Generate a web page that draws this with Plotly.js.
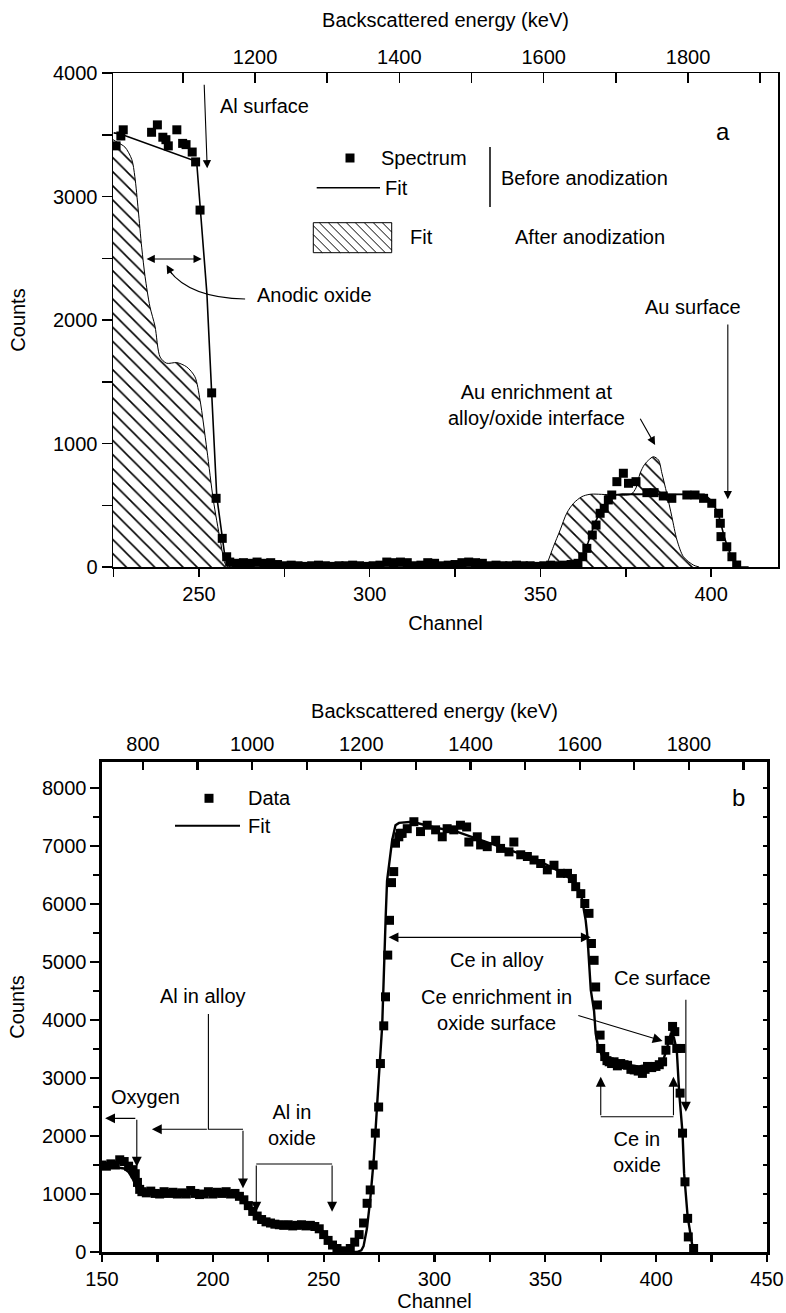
<!DOCTYPE html>
<html><head><meta charset="utf-8">
<script src="https://cdn.plot.ly/plotly-3.0.1.min.js"></script>
<style>html,body{margin:0;padding:0;background:#fff;}</style>
</head><body>
<div id="chart" style="width:786px;height:1313px;"></div>
<script>
// ---------- Panel a data ----------
const aSpecAlCh = [225.7,227.1,227.8,236.1,237.8,239.4,240.3,241.0,243.5,245.2,246.2,248.0,249.0,250.3,253.7,255.0,256.8,258.1];
const aSpecAlCounts = [3410,3490,3540,3520,3580,3480,3460,3410,3540,3430,3420,3360,3280,2890,1410,556,232,83];
const aSpecBaseCh = [259,261,263,265,267,269,271,273,275,277,279,281,283,285,287,289,291,293,295,297,299,301,303,305,307,309,311,313,315,317,319,321,323,325,327,329,331,333,335,337,339,341,343,345,347,349,351,353,355,357,359,361];
const aSpecBaseCounts = [40,30,35,30,40,30,35,20,10,15,10,5,10,15,10,5,10,10,15,10,5,10,15,40,35,40,35,10,15,35,30,10,15,20,35,40,35,30,10,15,10,10,15,10,10,5,10,15,10,15,20,30];
const aSpecAuCh = [362.4,363.6,365.2,366.3,367.5,368.7,369.9,370.9,372.4,374.3,375.8,378.0,381.2,383.3,386.0,388.5,392.9,395.3,397.8,400.2,402.2,402.7,402.9,404.6,406.1,407.5];
const aSpecAuCounts = [83,151,259,340,435,475,543,583,691,759,678,691,602,602,575,556,583,583,556,516,435,354,246,164,83,16];

const aFitCh = [225,227,249.3,252.3,253.7,255.2,257.6,259,360,362,364,366,368,370,372,374,398,400,402,403,404,405,406,407,408,411];
const aFitCounts = [3515,3506,3283,2216,1411,569,83,0,0,60,200,360,470,545,585,590,588,540,440,330,230,150,80,30,0,0];

const aAfterCh = [224.8,226,228.3,230.3,231.2,232.2,233.2,234.2,235.6,237.1,238.6,240.5,243.5,246.4,248.8,250.3,252.3,254.2,256.2,257.6,258.5,351.5,352,353.8,355.8,357.7,359.7,362.1,364.6,376.5,378,379.2,380.5,381.7,383.1,384.6,385.6,387,388.5,390,391.9,394.8,396.5];
const aAfterCounts = [3460,3440,3400,3300,3160,2890,2590,2350,2110,1950,1700,1650,1655,1620,1540,1350,950,540,220,30,0,0,30,164,300,435,516,569,589,589,640,759,830,866,893,866,759,597,408,219,83,16,0];

// ---------- Panel b data ----------
const bDataCh = [150,152,154,156,158,160,162,164,165,166,167,168,170,172,174,176,178,180,182,184,186,188,190,192,194,196,198,200,202,204,206,208,210,212,214,216,218,220,222,224,226,228,230,232,234,236,238,240,242,244,246,248,250,252,254,256,258,259,260,262,264,266,268,269.6,271,272.3,273.3,274.8,275.6,277.1,277.9,278.9,279.7,280.6,281.6,282.4,283.9,284.6,285.4,287.7,290.7,293.7,296.7,300.5,303.5,305.7,308.7,311.7,314.5,315.5,319.3,320.8,323.8,327.6,329.8,333.6,335.8,338.9,341.9,344.9,347.9,350.9,353.9,356.9,360,362.2,363.7,366,367.8,369.7,370.8,372,372.7,373.5,374.7,375,376.8,377.8,378.8,379.9,381,382.5,384,385.5,387.1,388.6,390.1,391.9,393.8,395,396.1,398,399.9,401.4,402.9,404.4,405.9,407.4,408.4,409.3,410.8,411.1,411.9,413,414.2,414.5,416.9];
const bDataCounts = [1500,1480,1520,1500,1590,1560,1480,1420,1350,1200,1080,1040,1020,1050,1010,1000,1040,1010,1030,1000,1020,1000,1060,1010,990,1000,1040,1000,1030,1010,1040,1000,1010,960,900,800,700,620,560,520,500,480,470,460,470,450,460,470,450,460,440,400,300,200,120,60,20,5,10,60,170,300,500,840,1070,1500,2050,2500,3250,3900,4400,5120,5720,6370,6560,7050,7160,7220,7220,7300,7420,7250,7360,7280,7160,7300,7280,7360,7330,7070,7160,7020,6990,7100,6960,6900,7070,6850,6820,6760,6700,6590,6670,6530,6530,6440,6300,6180,6010,5840,5320,5030,4570,4260,3740,3510,3370,3300,3280,3250,3280,3210,3250,3230,3220,3150,3140,3120,3080,3150,3200,3180,3200,3230,3280,3480,3650,3890,3800,3510,2740,3510,2050,1210,580,260,60];

const bFitCh = [150,156,160,162,164,166,168,175,190,205,210,213,216,219,222,226,235,245,249,252,255,257,259,265,267,268,269.5,271,272.6,273.6,274.8,276.4,277.1,278,278.6,280.9,282.4,284,290,300,310,320,330,340,350,358,363,366,368.2,369,370.5,372,372.7,373.8,375.8,379.5,385,392,398,402.9,404.4,406.5,408,409.3,410.4,411.9,412.6,414.2,416.4,418];
const bFitCounts = [1450,1460,1440,1380,1250,1080,1010,1000,1000,990,970,900,760,620,520,470,460,440,380,250,100,20,0,0,30,100,400,900,1600,2300,2960,3900,4900,5800,6400,7100,7360,7400,7420,7320,7250,7120,6990,6850,6690,6530,6380,6200,5720,5440,4520,4150,3770,3540,3370,3250,3240,3200,3230,3280,3450,3750,3700,3480,2740,2050,1360,610,90,0];

// energy axis ranges
const aEnergyRange = [1003.2, 1924.7];
const bEnergyRange = [725, 1943];

// ---------- helpers for layout decorations ----------
const W = 786, H = 1313;
const PX = x => x / W;
const PY = y => 1 - y / H;
const FONT = 'Liberation Sans, Arial, Helvetica, sans-serif';

function hatchPath(x0, y0, x1, y1, step) {
  let d = '';
  for (let c = x0 - (y1 - y0); c < x1; c += step) {
    const sx = Math.max(x0, c), ex = Math.min(x1, c + (y1 - y0));
    if (ex <= sx) continue;
    const sy = y0 + (sx - c), ey = y0 + (ex - c);
    d += 'M' + PX(sx).toFixed(5) + ',' + PY(sy).toFixed(5) + 'L' + PX(ex).toFixed(5) + ',' + PY(ey).toFixed(5);
  }
  return d;
}

const traces = [
  {x: aAfterCh, y: aAfterCounts, xaxis: 'x', yaxis: 'y', type: 'scatter', mode: 'lines',
   line: {color: 'black', width: 1, shape: 'spline', smoothing: 0.8}, fill: 'tozeroy', fillcolor: 'white',
   fillpattern: {shape: '\\', fgcolor: 'black', bgcolor: 'white', size: 10, solidity: 0.16}},
  {x: aFitCh, y: aFitCounts, xaxis: 'x', yaxis: 'y', type: 'scatter', mode: 'lines',
   line: {color: 'black', width: 1.6}},
  {x: aSpecAlCh.concat(aSpecBaseCh, aSpecAuCh), y: aSpecAlCounts.concat(aSpecBaseCounts, aSpecAuCounts),
   xaxis: 'x', yaxis: 'y', type: 'scatter', mode: 'markers',
   marker: {symbol: 'square', size: 9, color: 'black'}},
  {x: [], y: [], xaxis: 'x2', yaxis: 'y', type: 'scatter', mode: 'markers'},
  {x: bFitCh, y: bFitCounts, xaxis: 'x3', yaxis: 'y3', type: 'scatter', mode: 'lines',
   line: {color: 'black', width: 2.4}},
  {x: bDataCh, y: bDataCounts, xaxis: 'x3', yaxis: 'y3', type: 'scatter', mode: 'markers',
   marker: {symbol: 'square', size: 9, color: 'black'}},
  {x: [], y: [], xaxis: 'x4', yaxis: 'y3', type: 'scatter', mode: 'markers'},
  {x: [], y: [], xaxis: 'x3', yaxis: 'y4', type: 'scatter', mode: 'markers'}
];

const axBase = {showgrid: false, zeroline: false, showline: true, linecolor: 'black',
  tickcolor: 'black', tickfont: {family: FONT, size: 20, color: 'black'}, automargin: false};

const layout = {
  width: W, height: H, margin: {l: 0, r: 0, t: 0, b: 0},
  paper_bgcolor: 'white', plot_bgcolor: 'white', showlegend: false,
  font: {family: FONT, size: 20, color: 'black'},
  xaxis: Object.assign({}, axBase, {domain: [PX(113), PX(778)], anchor: 'y', range: [224.8, 419.6],
    tick0: 0, dtick: 50, ticks: 'outside', ticklen: 8, tickwidth: 1.5, linewidth: 1.5,
    minor: {dtick: 25, tick0: 0, ticks: 'outside', ticklen: 8, tickwidth: 1.5, tickcolor: 'black'},
    title: {text: 'Channel', standoff: 12, font: {family: FONT, size: 20}}}),
  yaxis: Object.assign({}, axBase, {domain: [PY(567), PY(73)], anchor: 'x', range: [0, 4000],
    dtick: 1000, ticks: 'outside', ticklen: 10, tickwidth: 1.5, linewidth: 1.5, mirror: true,
    minor: {dtick: 500, ticks: 'outside', ticklen: 10, tickwidth: 1.5, tickcolor: 'black'},
    title: {text: 'Counts', standoff: 22, font: {family: FONT, size: 20}}}),
  xaxis2: Object.assign({}, axBase, {overlaying: 'x', side: 'top', anchor: 'y', range: aEnergyRange,
    tick0: 0, dtick: 200, ticks: 'inside', ticklen: 10, tickwidth: 1.5, linewidth: 1.5,
    minor: {dtick: 100, tick0: 0, ticks: 'inside', ticklen: 10, tickwidth: 1.5, tickcolor: 'black'},
    title: {text: 'Backscattered energy (keV)', standoff: 12, font: {family: FONT, size: 20}}}),
  xaxis3: Object.assign({}, axBase, {domain: [PX(102), PX(767)], anchor: 'y3', range: [150, 450],
    tick0: 0, dtick: 50, ticks: 'outside', ticklen: 7, tickwidth: 2.2, linewidth: 2.6,
    minor: {dtick: 25, tick0: 0, ticks: 'outside', ticklen: 7, tickwidth: 2.2, tickcolor: 'black'},
    title: {text: 'Channel', standoff: 4, font: {family: FONT, size: 20}}}),
  yaxis3: Object.assign({}, axBase, {domain: [PY(1252), PY(762)], anchor: 'x3', range: [0, 8450],
    dtick: 1000, ticks: 'outside', ticklen: 9, tickwidth: 2.2, linewidth: 2.6,
    minor: {dtick: 500, ticks: 'outside', ticklen: 6, tickwidth: 2.2, tickcolor: 'black'},
    title: {text: 'Counts', standoff: 12, font: {family: FONT, size: 20}}}),
  xaxis4: Object.assign({}, axBase, {overlaying: 'x3', side: 'top', anchor: 'y3', range: bEnergyRange,
    tick0: 0, dtick: 200, ticks: 'inside', ticklen: 8, tickwidth: 2.2, linewidth: 2.6,
    minor: {dtick: 100, tick0: 0, ticks: 'inside', ticklen: 8, tickwidth: 2.2, tickcolor: 'black'},
    title: {text: 'Backscattered energy (keV)', standoff: 10, font: {family: FONT, size: 20}}}),
  yaxis4: Object.assign({}, axBase, {overlaying: 'y3', side: 'right', anchor: 'x3', range: [0, 8450],
    dtick: 500, ticks: 'inside', ticklen: 4, tickwidth: 2, linewidth: 2.6, showticklabels: false}),
  shapes: [], annotations: []
};

const S = layout.shapes, A = layout.annotations;
function txt(text, x, y, xanchor, size, align) {
  A.push({text: text, xref: 'paper', yref: 'paper', x: PX(x), y: PY(y), xanchor: xanchor || 'left',
    yanchor: 'middle', showarrow: false, align: align || 'center',
    font: {family: FONT, size: size || 20, color: 'black'}});
}
function arrow(xr, yr, x, y, ax, ay, opts) {
  A.push(Object.assign({text: '', xref: xr, yref: yr, axref: xr, ayref: yr, x: x, y: y, ax: ax, ay: ay,
    showarrow: true, arrowhead: 2, arrowsize: 1.5, arrowwidth: 1.1, arrowcolor: 'black',
    standoff: 0, startstandoff: 0}, opts || {}));
}
function seg(xr, yr, path, w) {
  S.push({type: 'path', xref: xr, yref: yr, path: path, line: {color: 'black', width: w || 1.1}});
}

// ----- Panel a texts / arrows -----
txt('Al surface', 218, 106);
arrow('x', 'y', 252.4, 3228, 251.5, 3917);
txt('a', 723, 131, 'center', 24);
S.push({type: 'rect', xref: 'paper', yref: 'paper', x0: PX(345.5), x1: PX(354.5), y0: PY(162.5), y1: PY(153.5),
  fillcolor: 'black', line: {width: 0}});
txt('Spectrum', 379, 158);
S.push({type: 'line', xref: 'paper', yref: 'paper', x0: PX(316.7), x1: PX(380), y0: PY(187.7), y1: PY(187.7),
  line: {color: 'black', width: 1.5}});
txt('Fit', 383, 188);
S.push({type: 'line', xref: 'paper', yref: 'paper', x0: PX(490), x1: PX(490), y0: PY(147), y1: PY(207),
  line: {color: 'black', width: 1.5}});
txt('Before anodization', 499, 178);
S.push({type: 'rect', xref: 'paper', yref: 'paper', x0: PX(313.3), x1: PX(391.7), y0: PY(252.7), y1: PY(222.7),
  fillcolor: 'white', line: {color: 'black', width: 1}});
S.push({type: 'path', xref: 'paper', yref: 'paper', path: hatchPath(313.3, 222.7, 391.7, 252.7, 9),
  line: {color: 'black', width: 1}});
txt('Fit', 408, 237);
txt('After anodization', 513, 237);
txt('Anodic oxide', 255, 295);
arrow('x', 'y', 250.8, 2494, 234.2, 2494, {arrowside: 'end+start', startarrowhead: 2, startarrowsize: 1.5});
seg('x', 'y', 'M263.5,2170 Q247.4,2178 241.3,2400');
arrow('x', 'y', 240.5, 2445, 242.3, 2360);
txt('Au surface', 643, 307);
arrow('x', 'y', 404.9, 548, 404.9, 1976);
txt('Au enrichment at<br>alloy/oxide interface', 536, 405, 'center');
arrow('x', 'y', 383.6, 988, 379.0, 1212);

// ----- Panel b texts / arrows -----
S.push({type: 'rect', xref: 'paper', yref: 'paper', x0: PX(204.5), x1: PX(213.5), y0: PY(802.8), y1: PY(793.8),
  fillcolor: 'black', line: {width: 0}});
txt('Data', 246, 798);
S.push({type: 'line', xref: 'paper', yref: 'paper', x0: PX(175), x1: PX(240), y0: PY(825.7), y1: PY(825.7),
  line: {color: 'black', width: 2}});
txt('Fit', 246, 826);
txt('b', 738, 797, 'center', 24);
const bw = {arrowsize: 1.8, arrowwidth: 1.1};
arrow('x3', 'y3', 370.5, 5426, 278.6, 5426, Object.assign({arrowside: 'end+start', startarrowhead: 2, startarrowsize: 1.8}, bw));
txt('Ce in alloy', 496, 960, 'center');
txt('Ce surface', 662, 978, 'center');
arrow('x3', 'y3', 413.4, 2419, 413.4, 4374, bw);
txt('Ce enrichment in<br>oxide surface', 497, 1010, 'center');
arrow('x3', 'y3', 402.9, 3638, 364.2, 4086, bw);
seg('x3', 'y3', 'M375,2333L407.8,2333');
arrow('x3', 'y3', 375, 3022, 375, 2333, bw);
arrow('x3', 'y3', 407.8, 3022, 407.8, 2333, bw);
txt('Ce in<br>oxide', 637, 1152, 'center');
txt('Al in alloy', 203, 996, 'center');
seg('x3', 'y3', 'M198,4103L198,2116L213.6,2116');
arrow('x3', 'y3', 172.5, 2116, 198, 2116, bw);
arrow('x3', 'y3', 213.6, 1098, 213.6, 2116, bw);
txt('Oxygen', 145, 1097, 'center');
arrow('x3', 'y3', 151.4, 2305, 165.7, 2305, bw);
arrow('x3', 'y3', 165.7, 1471, 165.7, 2305, bw);
txt('Al in<br>oxide', 292, 1125, 'center');
seg('x3', 'y3', 'M219.6,1517L253.8,1517');
arrow('x3', 'y3', 219.6, 695, 219.6, 1517, bw);
arrow('x3', 'y3', 253.8, 695, 253.8, 1517, bw);

Plotly.newPlot('chart', traces, layout, {displayModeBar: false, staticPlot: true});
</script>
</body></html>
